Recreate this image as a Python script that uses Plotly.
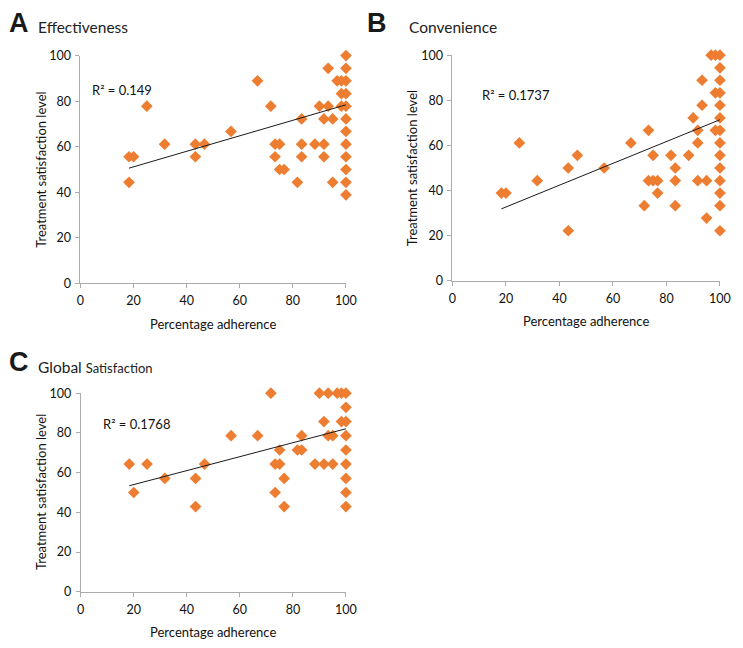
import plotly.graph_objects as go

# ---------------- data ----------------
# Panel A - Effectiveness
A_adherence = [18.3, 18.3, 20, 25, 31.7, 43.3, 43.3, 46.7, 56.7, 66.7, 71.7, 73.3, 73.3, 75, 75, 76.7,
               81.7, 83.3, 83.3, 83.3, 88.3, 90, 91.7, 91.7, 91.7, 93.3, 93.3, 95, 95, 96.7, 98.3, 98.3,
               98.3, 100, 100, 100, 100, 100, 100, 100, 100, 100, 100, 100, 100]
A_satisfaction = [55.6, 44.4, 55.6, 77.8, 61.1, 61.1, 55.6, 61.1, 66.7, 88.9, 77.8, 61.1, 55.6, 61.1, 50, 50,
                  44.4, 72.2, 61.1, 55.6, 61.1, 77.8, 72.2, 61.1, 55.6, 94.4, 77.8, 72.2, 44.4, 88.9, 88.9, 83.3,
                  77.8, 100, 94.4, 88.9, 83.3, 77.8, 72.2, 66.7, 61.1, 55.6, 50, 44.4, 38.9]
A_trend_x = [18.3, 100]
A_trend_y = [50.6, 78.4]
A_r2 = "R² = 0.149"

# Panel B - Convenience
B_adherence = [18.3, 20, 25, 31.7, 43.3, 43.3, 46.7, 56.7, 66.7, 71.7, 73.3, 73.3, 75, 75, 76.7, 76.7,
               81.7, 83.3, 83.3, 83.3, 88.3, 90, 91.7, 91.7, 91.7, 93.3, 93.3, 95, 95, 96.7, 98.3, 98.3,
               98.3, 100, 100, 100, 100, 100, 100, 100, 100, 100, 100, 100, 100, 100, 100]
B_satisfaction = [38.9, 38.9, 61.1, 44.4, 50, 22.2, 55.6, 50, 61.1, 33.3, 66.7, 44.4, 55.6, 44.4, 44.4, 38.9,
                  55.6, 50, 44.4, 33.3, 55.6, 72.2, 66.7, 61.1, 44.4, 88.9, 77.8, 44.4, 27.8, 100, 100, 83.3,
                  66.7, 100, 94.4, 88.9, 83.3, 77.8, 72.2, 66.7, 61.1, 55.6, 50, 44.4, 38.9, 33.3, 22.2]
B_trend_x = [18.3, 100]
B_trend_y = [31.9, 71.4]
B_r2 = "R² = 0.1737"

# Panel C - Global Satisfaction
C_adherence = [18.3, 20, 25, 31.7, 43.3, 43.3, 46.7, 56.7, 66.7, 71.7, 73.3, 73.3, 75, 75, 76.7, 76.7,
               81.7, 83.3, 83.3, 88.3, 90, 91.7, 91.7, 93.3, 93.3, 95, 95, 96.7, 98.3, 98.3,
               100, 100, 100, 100, 100, 100, 100, 100, 100]
C_satisfaction = [64.3, 50, 64.3, 57.1, 57.1, 42.9, 64.3, 78.6, 78.6, 100, 64.3, 50, 71.4, 64.3, 57.1, 42.9,
                  71.4, 78.6, 71.4, 64.3, 100, 85.7, 64.3, 100, 78.6, 78.6, 64.3, 100, 100, 85.7,
                  100, 92.9, 85.7, 78.6, 71.4, 64.3, 57.1, 50, 42.9]
C_trend_x = [18.3, 100]
C_trend_y = [53.4, 82.1]
C_r2 = "R² = 0.1768"

tick_vals = [0, 20, 40, 60, 80, 100]
tick_text = ["0", "20", "40", "60", "80", "100"]

# ---------------- figure ----------------
W, H = 743, 648
FONT = "Lato, 'Open Sans', sans-serif"
ORANGE = "#ED7D31"
AXIS_GREY = "#ABABAB"
TEXT = "#111111"

def px(x):
    return x / W

def py(y):
    return 1 - y / H

fig = go.Figure()

panels = [
    ("x", "y", A_adherence, A_satisfaction, A_trend_x, A_trend_y),
    ("x2", "y2", B_adherence, B_satisfaction, B_trend_x, B_trend_y),
    ("x3", "y3", C_adherence, C_satisfaction, C_trend_x, C_trend_y),
]
for xa, ya, xs, ys, tx, ty in panels:
    fig.add_trace(go.Scatter(x=xs, y=ys, xaxis=xa, yaxis=ya, mode="markers",
                             marker=dict(symbol="diamond", size=9, color=ORANGE, line=dict(width=0)),
                             cliponaxis=False, showlegend=False, hoverinfo="x+y"))
    fig.add_trace(go.Scatter(x=tx, y=ty, xaxis=xa, yaxis=ya, mode="lines",
                             line=dict(color="#1a1a1a", width=1),
                             showlegend=False, hoverinfo="skip"))

def axis(domain, anchor, standoff):
    return dict(domain=domain, anchor=anchor, range=[0, 100], tickvals=tick_vals, ticktext=tick_text,
                showgrid=False, zeroline=False, showline=True, linecolor=AXIS_GREY, linewidth=1,
                ticks="outside", ticklen=4, tickcolor=AXIS_GREY, ticklabelstandoff=standoff,
                tickfont=dict(family=FONT, size=12.5, color=TEXT), fixedrange=True)

# plot-area pixel boxes: (left, right, top, bottom)
boxA = (78.0, 349.0, 48.7, 282.0)
boxB = (457.7, 730.7, 48.3, 279.3)
boxC = (78.3, 349.0, 394.3, 597.7)

def dom(box):
    l, r, t, b = box
    return [px(l), px(r)], [py(b), py(t)]

xdA, ydA = dom(boxA)
xdB, ydB = dom(boxB)
xdC, ydC = dom(boxC)

fig.update_layout(
    width=W, height=H, margin=dict(l=0, r=0, t=0, b=0),
    paper_bgcolor="white", plot_bgcolor="white",
    xaxis=axis(xdA, "y", 2), yaxis=axis(ydA, "x", 2),
    xaxis2=axis(xdB, "y2", 2), yaxis2=axis(ydB, "x2", 2),
    xaxis3=axis(xdC, "y3", 2), yaxis3=axis(ydC, "x3", 2),
)

ann = []
def text(x, y, s, size, anchor="center", angle=0, family=FONT, color=TEXT):
    ann.append(dict(x=px(x), y=py(y), xref="paper", yref="paper", text=s, showarrow=False,
                    xanchor=anchor, yanchor="middle", textangle=angle,
                    font=dict(family=family, size=size, color=color)))

LETTER_FONT = "'Liberation Sans', Arial, sans-serif"
# panel letters and titles
text(3, 15, "<b>A</b>", 27, "left", family=LETTER_FONT, color="#1a1a1a")
text(33, 19, "Effectiveness", 15.5, "left", color="#222222")
text(368, 15, "<b>B</b>", 27, "left", family=LETTER_FONT, color="#1a1a1a")
text(411, 19, "Convenience", 15.5, "left", color="#222222")
text(3, 362, "<b>C</b>", 27, "left", family=LETTER_FONT, color="#1a1a1a")
text(33, 367, "Global <span style='font-size:13px'>Satisfaction</span>", 15.5, "left", color="#222222")

# axis titles
for box in (boxA, boxB, boxC):
    l, r, t, b = box
    text(l - 41, (t + b) / 2, "Treatment satisfaction level", 13, angle=-90)
    text((l + r) / 2, b + 41, "Percentage adherence", 13)

# R² labels (in data coordinates)
for xa, ya, s, xv, yv in [("x", "y", A_r2, 3.7, 84.9),
                          ("x2", "y2", B_r2, 10.4, 82.3),
                          ("x3", "y3", C_r2, 7.8, 84.4)]:
    ann.append(dict(x=xv, y=yv, xref=xa, yref=ya, text=s, showarrow=False, xanchor="left",
                    yanchor="middle", font=dict(family=FONT, size=13, color=TEXT)))

fig.update_layout(annotations=ann)
fig.write_html("out.html", config={"displayModeBar": False},
               post_script="document.body.style.margin='0px';")
